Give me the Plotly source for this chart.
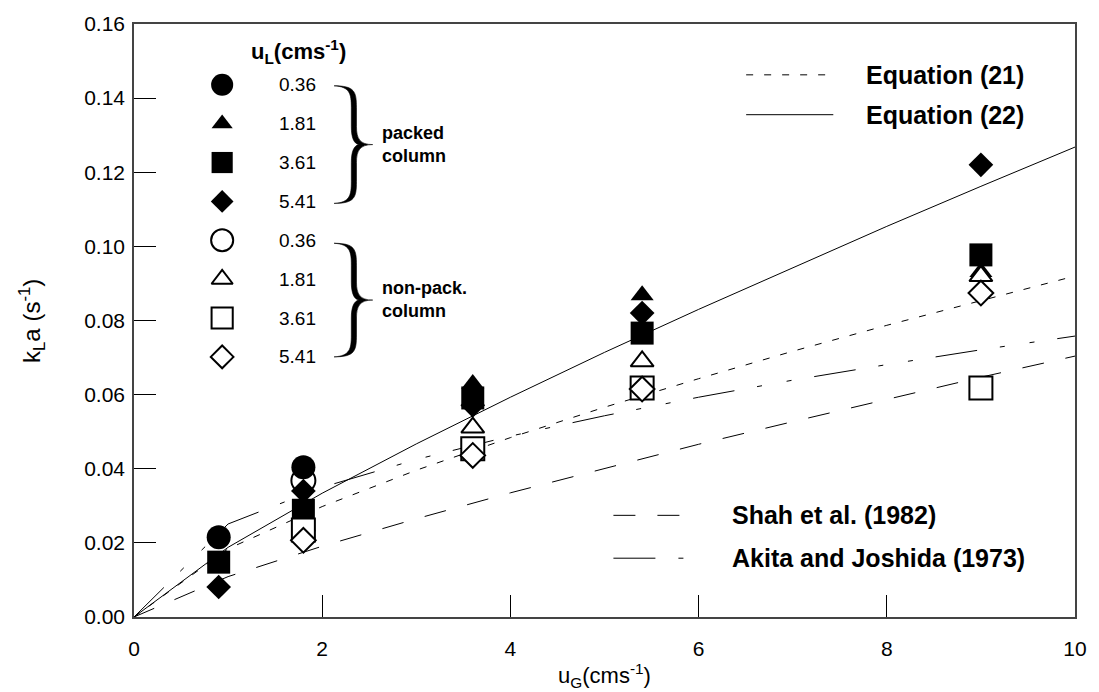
import plotly.graph_objects as go

# ---------------- data ----------------
uG = [0.9, 1.8, 3.6, 5.4, 9.0]

# packed column (filled symbols), uL = 0.36, 1.81, 3.61, 5.41 cm/s
packed_036 = [0.0215, 0.0404, None, None, None]
packed_181 = [None, None, 0.0629, 0.0868, 0.0931]
packed_361 = [0.0148, 0.0288, 0.0591, 0.0766, 0.0977]
packed_541 = [0.0081, 0.0340, 0.0571, 0.0820, 0.1220]

# non-packed column (open symbols)
nonpack_036 = [None, 0.0368, None, None, None]
nonpack_181 = [None, 0.0245, 0.0511, 0.0690, 0.0920]
nonpack_361 = [None, 0.0235, 0.0454, 0.0618, 0.0618]
nonpack_541 = [None, 0.0207, 0.0436, 0.0615, 0.0874]

# correlation curves
uG_curve = [0, 1, 2, 3, 4, 5, 6, 7, 8, 9, 10]
eq21 = [0, 0.0184, 0.0298, 0.0396, 0.0484, 0.0566, 0.0643, 0.0717, 0.0787, 0.0854, 0.0920]
eq22 = [0, 0.0188, 0.0334, 0.0467, 0.0593, 0.0714, 0.0830, 0.0943, 0.1054, 0.1162, 0.1268]
shah = [0, 0.0109, 0.0191, 0.0265, 0.0335, 0.0401, 0.0466, 0.0527, 0.0587, 0.0647, 0.0704]
akita = [0, 0.0251, 0.0350, 0.0425, 0.0488, 0.0543, 0.0593, 0.0639, 0.0681, 0.0721, 0.0758]

uL_labels = ["0.36", "1.81", "3.61", "5.41"]

# ---------------- layout constants ----------------
W, H = 1099, 692
L, R, T, B = 134, 1084, 22, 617
FONT = "Liberation Sans, Arial, sans-serif"


def px(x):
    return (x - L) / (R - L)


def py(y):
    return (B - y) / (B - T)


DASH21 = "7px,11px"
DASH_SHAH = "22px,22px"
DASH_AKITA = "42px,23px,5px,25px,5px,23px"

fig = go.Figure()

# curves
curve_specs = [
    (eq21, DASH21),
    (eq22, "solid"),
    (shah, DASH_SHAH),
    (akita, DASH_AKITA),
]
for vals, dash in curve_specs:
    fig.add_trace(go.Scatter(x=uG_curve, y=vals, mode="lines",
                             line=dict(color="black", width=1, dash=dash),
                             hoverinfo="skip", showlegend=False))

SIZES = {"circle": 24, "triangle-up": 20, "square": 23, "diamond": 19}


def marker(symbol, filled, scale=1.0):
    s = SIZES[symbol] * scale
    if filled:
        return dict(symbol=symbol, size=s, color="black",
                    line=dict(color="black", width=0))
    return dict(symbol=symbol, size=s, color="white",
                line=dict(color="black", width=2))


series = [
    (nonpack_036, "circle", False),
    (packed_036, "circle", True),
    (packed_181, "triangle-up", True),
    (packed_361, "square", True),
    (packed_541, "diamond", True),
    (nonpack_181, "triangle-up", False),
    (nonpack_361, "square", False),
    (nonpack_541, "diamond", False),
]
for vals, sym, filled in series:
    fig.add_trace(go.Scatter(x=uG, y=vals, mode="markers",
                             marker=marker(sym, filled),
                             showlegend=False, hoverinfo="skip"))

# ---------------- symbol key (overlay axes in plot fractions) ----------------
key_rows = [83, 122, 161, 200, 239, 278, 317, 356]
key_syms = ["circle", "triangle-up", "square", "diamond"] * 2
key_fill = [True] * 4 + [False] * 4
key_x = 223
for yy, sym, filled in zip(key_rows, key_syms, key_fill):
    fig.add_trace(go.Scatter(x=[px(key_x)], y=[py(yy)], mode="markers",
                             marker=marker(sym, filled, 0.92),
                             xaxis="x2", yaxis="y2",
                             showlegend=False, hoverinfo="skip"))

annotations = []


def text(x, y, s, size, anchor="left", bold=False):
    annotations.append(dict(
        x=px(x), y=py(y), xref="paper", yref="paper",
        text=f"<b>{s}</b>" if bold else s, showarrow=False,
        xanchor=anchor, yanchor="middle",
        font=dict(family=FONT, size=size, color="black")))


text(300, 50, "u<sub>L</sub>(cms<sup>-1</sup>)", 22, anchor="center", bold=True)
for yy, lab in zip(key_rows, uL_labels * 2):
    text(299, yy, lab, 19, anchor="center")

shapes = []


def brace(top, bottom, xl, xs, xt, hw=2.6):
    """Closed outline of a curly brace: pointed ends, heavy stems, pointed middle."""
    ym = (top + bottom) / 2
    segs = [
        ("M", [(xl, top)]),
        # outer contour, upper hook and stem
        ("C", [(xs + 1, top), (xs + hw, top + 6), (xs + hw, top + 22)]),
        ("L", [(xs + hw, ym - 18)]),
        ("C", [(xs + hw, ym - 6), (xs + 6, ym), (xt, ym)]),
        # outer contour, lower stem and hook
        ("C", [(xs + 6, ym), (xs + hw, ym + 6), (xs + hw, ym + 18)]),
        ("L", [(xs + hw, bottom - 22)]),
        ("C", [(xs + hw, bottom - 6), (xs + 1, bottom), (xl, bottom)]),
        # inner contour back up
        ("C", [(xs - 4, bottom - 1), (xs - hw, bottom - 8), (xs - hw, bottom - 22)]),
        ("L", [(xs - hw, ym + 18)]),
        ("C", [(xs - hw, ym + 7), (xs, ym + 1), (xs + 5, ym)]),
        ("C", [(xs, ym - 1), (xs - hw, ym - 7), (xs - hw, ym - 18)]),
        ("L", [(xs - hw, top + 22)]),
        ("C", [(xs - hw, top + 8), (xs - 4, top + 1), (xl, top)]),
    ]
    path = " ".join(cmd + " " + " ".join(f"{px(a):.5f},{py(b):.5f}" for a, b in pts)
                    for cmd, pts in segs) + " Z"
    shapes.append(dict(type="path", path=path, xref="paper", yref="paper",
                       fillcolor="black", line=dict(color="black", width=0.6)))
    return ym


ym1 = brace(84, 202, 336, 356, 375)
text(382, ym1 - 12, "packed", 18, bold=True)
text(382, ym1 + 11, "column", 18, bold=True)

ym2 = brace(242, 356, 336, 356, 375)
text(382, ym2 - 12, "non-pack.", 18, bold=True)
text(382, ym2 + 11, "column", 18, bold=True)


# line key
def line_key(x0, x1, y, dash, label, xt):
    shapes.append(dict(type="line", xref="paper", yref="paper",
                       x0=px(x0), x1=px(x1), y0=py(y), y1=py(y),
                       line=dict(color="black", width=1, dash=dash)))
    text(xt, y, label, 25, bold=True)


line_key(752, 840, 73, DASH21, "Equation (21)", 871)
line_key(752, 840, 113, "solid", "Equation (22)", 871)
line_key(618, 690, 515, DASH_SHAH, "Shah et al. (1982)", 736)
line_key(618, 690, 558, DASH_AKITA, "Akita and Joshida (1973)", 736)

# axis titles
annotations.append(dict(x=px(609), y=py(676), xref="paper", yref="paper",
                        text="u<sub>G</sub>(cms<sup>-1</sup>)", showarrow=False,
                        xanchor="center", yanchor="middle",
                        font=dict(family=FONT, size=22, color="black")))
annotations.append(dict(x=px(31), y=py(320), xref="paper", yref="paper",
                        text="k<sub>L</sub>a (s<sup>-1</sup>)", showarrow=False,
                        textangle=-90, xanchor="center", yanchor="middle",
                        font=dict(family=FONT, size=24, color="black")))

axis_common = dict(showline=True, linecolor="#444", linewidth=1.5, mirror=True,
                   ticks="inside", ticklen=22, tickwidth=1, tickcolor="black",
                   showgrid=False, zeroline=False,
                   tickfont=dict(family=FONT, size=21, color="black"))

fig.update_layout(
    width=W, height=H,
    margin=dict(l=L, r=W - R, t=T, b=H - B),
    paper_bgcolor="white", plot_bgcolor="white",
    xaxis=dict(range=[0, 10], dtick=2, tick0=0, ticklabelstandoff=12, **axis_common),
    yaxis=dict(range=[0, 0.16], dtick=0.02, tick0=0, tickformat=".2f",
               ticklabelstandoff=3, **axis_common),
    xaxis2=dict(overlaying="x", range=[0, 1], visible=False),
    yaxis2=dict(overlaying="y", range=[0, 1], visible=False),
    shapes=shapes, annotations=annotations,
    showlegend=False,
)

fig.write_html("out.html")
